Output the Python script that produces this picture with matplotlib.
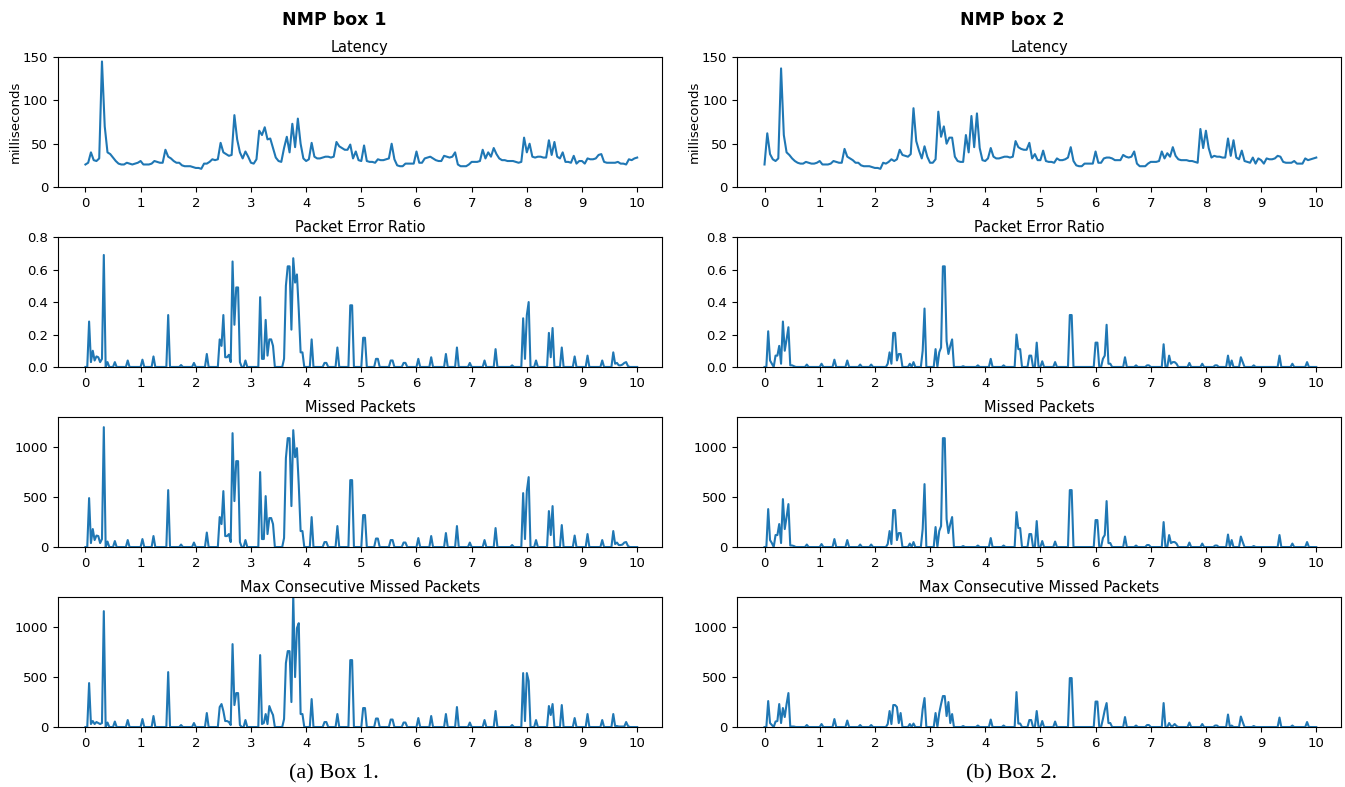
import numpy as np
import matplotlib
matplotlib.use("Agg")
import matplotlib.pyplot as plt

# latency, sampled every 0.05 on the 0..10 axis
lat_box1 = [26, 28, 40, 31, 30, 33, 145, 70, 40, 38, 34, 30, 27, 26, 26, 28, 27, 26, 27, 28,
            30, 26, 26, 26, 27, 30, 29, 28, 28, 43, 35, 33, 30, 28, 28, 25, 24, 24, 24, 23,
            22, 22, 21, 27, 27, 29, 32, 31, 32, 51, 40, 38, 36, 37, 83, 55, 40, 33, 41, 35,
            28, 27, 32, 65, 60, 69, 55, 56, 45, 34, 30, 29, 45, 58, 40, 73, 46, 79, 50, 33,
            30, 32, 51, 35, 33, 33, 34, 35, 35, 34, 35, 52, 47, 45, 43, 43, 49, 33, 41, 31,
            30, 48, 30, 29, 29, 28, 32, 31, 31, 32, 33, 50, 32, 25, 24, 24, 27, 27, 27, 27,
            41, 28, 28, 33, 34, 35, 33, 31, 30, 30, 36, 35, 34, 35, 40, 26, 24, 24, 24, 26,
            29, 29, 29, 30, 43, 33, 40, 35, 45, 38, 33, 31, 31, 30, 30, 30, 29, 28, 29, 57,
            40, 50, 35, 34, 35, 35, 34, 34, 54, 37, 52, 35, 33, 40, 29, 29, 28, 36, 27, 30,
            30, 27, 33, 32, 32, 33, 37, 38, 29, 28, 28, 28, 28, 29, 27, 27, 26, 32, 31, 33,
            34]
lat_box2 = [26, 62, 38, 32, 30, 33, 137, 60, 40, 37, 33, 30, 28, 27, 27, 29, 28, 27, 27, 28,
            30, 26, 26, 26, 27, 30, 29, 28, 28, 44, 35, 33, 31, 28, 28, 25, 24, 24, 24, 23,
            22, 22, 21, 28, 27, 29, 32, 30, 32, 43, 37, 36, 35, 38, 91, 53, 42, 33, 47, 35,
            28, 28, 32, 87, 58, 70, 50, 57, 57, 35, 30, 29, 29, 60, 40, 82, 46, 85, 45, 31,
            30, 33, 45, 35, 33, 33, 34, 35, 35, 34, 35, 53, 46, 44, 43, 43, 51, 33, 38, 31,
            31, 42, 30, 29, 29, 28, 33, 31, 31, 32, 34, 46, 30, 25, 24, 24, 27, 27, 27, 27,
            41, 28, 28, 33, 34, 34, 33, 31, 31, 31, 37, 35, 34, 35, 41, 27, 24, 24, 24, 27,
            29, 29, 29, 30, 41, 33, 39, 35, 46, 36, 32, 31, 31, 31, 30, 30, 29, 28, 67, 45,
            65, 45, 34, 36, 35, 35, 34, 34, 56, 36, 54, 34, 32, 42, 30, 29, 28, 34, 27, 33,
            31, 27, 33, 32, 32, 33, 36, 35, 29, 28, 28, 28, 30, 27, 27, 27, 33, 31, 32, 33,
            34]

# packet series: nonzero samples (time, value) on a 1/30 grid, zero elsewhere
per1_t = [0.07, 0.10, 0.13, 0.17, 0.20, 0.23, 0.27, 0.30, 0.33, 0.40, 0.53, 0.77, 1.03, 1.23,
          1.50, 1.73, 1.97, 2.20, 2.43, 2.47, 2.50, 2.53, 2.57, 2.60, 2.63, 2.67, 2.70, 2.73,
          2.77, 2.80, 2.90, 3.17, 3.20, 3.23, 3.27, 3.30, 3.33, 3.37, 3.40, 3.60, 3.63, 3.67,
          3.70, 3.73, 3.77, 3.80, 3.83, 3.87, 3.90, 3.93, 4.10, 4.33, 4.37, 4.57, 4.80, 4.83,
          5.03, 5.07, 5.27, 5.30, 5.53, 5.57, 5.77, 5.80, 6.03, 6.27, 6.53, 6.73, 6.97, 7.23,
          7.43, 7.73, 7.93, 7.97, 8.00, 8.03, 8.17, 8.40, 8.43, 8.47, 8.63, 8.87, 9.10, 9.37,
          9.57, 9.60, 9.63, 9.67, 9.70, 9.73, 9.77, 9.80, 9.83]
per1_v = [0.28, 0.03, 0.10, 0.04, 0.065, 0.06, 0.03, 0.05, 0.69, 0.03, 0.03, 0.04, 0.045, 0.065,
          0.32, 0.012, 0.025, 0.08, 0.17, 0.13, 0.32, 0.06, 0.06, 0.075, 0.03, 0.65, 0.26, 0.49,
          0.49, 0.03, 0.04, 0.43, 0.05, 0.05, 0.29, 0.07, 0.17, 0.17, 0.13, 0.05, 0.50, 0.62,
          0.62, 0.23, 0.67, 0.52, 0.57, 0.35, 0.09, 0.09, 0.17, 0.025, 0.025, 0.12, 0.38, 0.38,
          0.18, 0.18, 0.05, 0.05, 0.04, 0.04, 0.025, 0.025, 0.05, 0.06, 0.08, 0.12, 0.025, 0.04,
          0.11, 0.01, 0.30, 0.05, 0.32, 0.40, 0.04, 0.21, 0.06, 0.24, 0.12, 0.065, 0.07, 0.04,
          0.09, 0.02, 0.025, 0.01, 0.01, 0.015, 0.025, 0.03, 0.005]
miss1_v = [490, 40, 180, 70, 115, 110, 40, 80, 1200, 55, 60, 70, 80, 110,
           570, 25, 45, 145, 300, 230, 560, 110, 110, 130, 50, 1140, 460, 860,
           860, 50, 70, 750, 80, 80, 510, 130, 290, 290, 230, 90, 890, 1090,
           1090, 410, 1170, 900, 990, 620, 160, 160, 300, 50, 50, 210, 670, 670,
           320, 320, 85, 85, 70, 70, 45, 45, 90, 110, 140, 210, 45, 70,
           190, 20, 540, 80, 560, 700, 70, 360, 120, 410, 220, 115, 130, 70,
           160, 30, 45, 20, 20, 25, 45, 50, 10]
maxc1_v = [440, 30, 60, 30, 50, 40, 30, 40, 1160, 45, 55, 70, 80, 110,
           550, 20, 40, 140, 200, 230, 160, 60, 60, 50, 20, 830, 220, 340,
           340, 20, 70, 720, 30, 40, 130, 30, 210, 160, 120, 80, 640, 760,
           760, 250, 1320, 500, 990, 1040, 130, 130, 280, 50, 50, 130, 670, 670,
           190, 190, 85, 85, 75, 75, 45, 45, 90, 110, 130, 200, 45, 70,
           160, 20, 540, 60, 540, 460, 70, 210, 120, 230, 220, 90, 130, 70,
           130, 10, 10, 5, 5, 5, 5, 50, 10]

per2_t = [0.07, 0.10, 0.13, 0.20, 0.23, 0.27, 0.30, 0.33, 0.37, 0.40, 0.43, 0.47, 0.50, 0.53,
          0.77, 1.03, 1.27, 1.50, 1.73, 1.93, 2.23, 2.27, 2.30, 2.33, 2.37, 2.40, 2.43, 2.47,
          2.63, 2.70, 2.87, 2.90, 3.10, 3.17, 3.20, 3.23, 3.27, 3.30, 3.33, 3.37, 3.40, 3.60,
          3.87, 4.10, 4.33, 4.57, 4.60, 4.63, 4.80, 4.83, 4.93, 5.03, 5.27, 5.53, 5.57, 6.00,
          6.03, 6.13, 6.17, 6.20, 6.23, 6.27, 6.53, 6.73, 6.93, 6.97, 7.23, 7.33, 7.37, 7.40,
          7.43, 7.47, 7.70, 7.93, 8.17, 8.20, 8.40, 8.47, 8.63, 8.67, 8.87, 9.33, 9.57, 9.83]
per2_v = [0.22, 0.04, 0.02, 0.07, 0.07, 0.13, 0.02, 0.28, 0.10, 0.17, 0.245, 0.01, 0.01, 0.005,
          0.015, 0.02, 0.045, 0.04, 0.015, 0.015, 0.02, 0.09, 0.02, 0.21, 0.21, 0.04, 0.08, 0.08,
          0.02, 0.03, 0.10, 0.36, 0.11, 0.09, 0.12, 0.62, 0.62, 0.16, 0.08, 0.13, 0.17, 0.005,
          0.01, 0.05, 0.01, 0.20, 0.11, 0.11, 0.07, 0.07, 0.15, 0.035, 0.03, 0.32, 0.32, 0.15,
          0.15, 0.05, 0.07, 0.26, 0.02, 0.02, 0.06, 0.01, 0.01, 0.01, 0.14, 0.07, 0.02, 0.03,
          0.03, 0.02, 0.025, 0.02, 0.01, 0.01, 0.07, 0.04, 0.06, 0.03, 0.01, 0.07, 0.02, 0.03]
miss2_v = [380, 70, 40, 120, 120, 230, 40, 480, 180, 300, 430, 15, 15, 10,
           25, 30, 80, 70, 25, 25, 30, 160, 30, 370, 370, 70, 140, 140,
           35, 50, 180, 630, 200, 160, 210, 1090, 1090, 280, 140, 230, 300, 10,
           15, 90, 15, 350, 190, 190, 130, 130, 260, 60, 55, 570, 570, 270,
           270, 90, 120, 460, 40, 40, 105, 15, 20, 20, 250, 120, 40, 50,
           50, 35, 45, 35, 15, 15, 125, 70, 105, 50, 10, 120, 35, 50]
maxc2_v = [260, 40, 20, 55, 60, 230, 40, 190, 100, 230, 340, 5, 5, 5,
           20, 30, 80, 65, 20, 20, 30, 160, 30, 220, 220, 200, 40, 140,
           30, 35, 180, 290, 140, 140, 230, 310, 310, 110, 250, 40, 130, 10,
           15, 75, 15, 350, 35, 35, 70, 70, 160, 60, 55, 490, 490, 255,
           255, 80, 170, 240, 40, 40, 100, 15, 20, 20, 240, 40, 10, 10,
           30, 10, 45, 30, 15, 15, 125, 15, 105, 50, 10, 95, 15, 50]

titles = ["Latency", "Packet Error Ratio", "Missed Packets", "Max Consecutive Missed Packets"]
headers = ["NMP box 1", "NMP box 2"]
captions = ["(a) Box 1.", "(b) Box 2."]

t_lat = np.linspace(0, 10, 201)
t_pkt = np.linspace(0, 10, 301)


def spikes(times, values):
    y = np.zeros(len(t_pkt))
    y[np.round(np.array(times) * 30).astype(int)] = values
    return y


cols = [
    [(t_lat, lat_box1), (t_pkt, spikes(per1_t, per1_v)),
     (t_pkt, spikes(per1_t, miss1_v)), (t_pkt, spikes(per1_t, maxc1_v))],
    [(t_lat, lat_box2), (t_pkt, spikes(per2_t, per2_v)),
     (t_pkt, spikes(per2_t, miss2_v)), (t_pkt, spikes(per2_t, maxc2_v))],
]

ylims = [(0, 150), (0, 0.8), (0, 1300), (0, 1300)]
yticks = [[0, 50, 100, 150], [0, 0.2, 0.4, 0.6, 0.8], [0, 500, 1000], [0, 500, 1000]]

fig = plt.figure(figsize=(13.45, 7.87), dpi=100)
lefts = [0.0431, 0.548]
width = 0.449
bottoms = [0.7624, 0.5337, 0.3049, 0.0762]
height = 0.165
centers = [0.2483, 0.7524]

for c in range(2):
    for r in range(4):
        ax = fig.add_axes([lefts[c], bottoms[r], width, height])
        x, y = cols[c][r]
        ax.plot(x, y, color="#1f77b4", lw=1.5)
        ax.set_xlim(-0.4975, 10.4475)
        ax.set_ylim(*ylims[r])
        ax.set_xticks(range(11))
        ax.set_yticks(yticks[r])
        if r == 1:
            ax.set_yticklabels(["0.0", "0.2", "0.4", "0.6", "0.8"])
        ax.set_title(titles[r], fontsize=10.5, pad=4)
        ax.tick_params(labelsize=9.5)
        if r == 0:
            ax.set_ylabel("milliseconds", fontsize=9.5, labelpad=1)
    fig.text(centers[c], 0.975, headers[c], ha="center", va="center",
             fontsize=12.5, fontweight="bold")
    fig.text(centers[c], 0.017, captions[c], ha="center", va="center",
             fontsize=16, family="Liberation Serif")

fig.savefig("out.png", dpi=100)
